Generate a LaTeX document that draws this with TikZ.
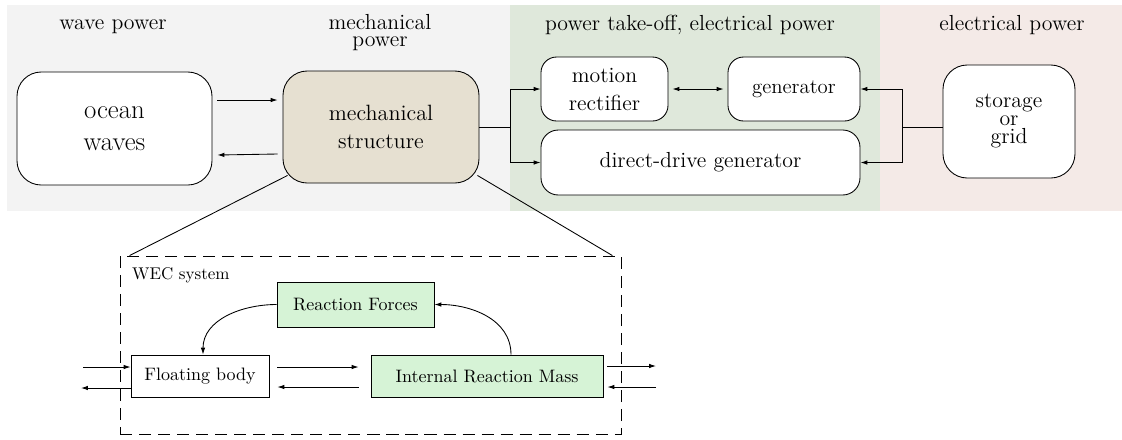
\documentclass[tikz,border=0pt]{standalone}
\usetikzlibrary{arrows.meta,calc}
\definecolor{graybg}{HTML}{F3F3F3}
\definecolor{greenbg}{HTML}{DFE8DB}
\definecolor{pinkbg}{HTML}{F4EAE7}
\definecolor{beige}{HTML}{E6E0D1}
\definecolor{lightgreen}{HTML}{D6F3D6}
\begin{document}
\begin{tikzpicture}[x=0.578pt,y=-0.578pt,
  rbox/.style={draw, align=center, inner sep=0pt, line width=0.5pt},
  sbox/.style={draw, align=center, inner sep=0pt, line width=0.5pt, font=\fontsize{10.4}{12.5}\selectfont},
  hdr/.style={align=center, font=\fontsize{12.6}{9.8}\selectfont},
  arr/.style={-{Latex[length=4pt,width=2.6pt]}, line width=0.5pt},
  dbl/.style={{Latex[length=4pt,width=2.6pt]}-{Latex[length=4pt,width=2.6pt]}, line width=0.5pt},
  ln/.style={line width=0.5pt}]
\useasboundingbox (0,0) rectangle (1122,439);
\fill[graybg] (7,5) rectangle (510,211);
\fill[greenbg] (510,5) rectangle (880,211);
\fill[pinkbg] (880,5) rectangle (1122,211);

\node[hdr] (h1) at (113,27) {wave power};
\node[hdr] (h2) at (380,33) {mechanical\\power};
\node[hdr] (h3) at (690,25) {power take-off, electrical power};
\node[hdr] (h4) at (1012,25) {electrical power};

\node[rbox, fill=white, rounded corners=14pt, minimum width=195*0.578pt, minimum height=113*0.578pt,
  font=\fontsize{15.5}{18.5}\selectfont] (ocean) at (114.5,128.5) {ocean\\waves};
\node[rbox, fill=beige, rounded corners=14pt, minimum width=196*0.578pt, minimum height=112*0.578pt,
  font=\fontsize{12.8}{16.2}\selectfont] (mech) at (381,127) {mechanical\\structure};
\node[rbox, fill=white, rounded corners=9pt, minimum width=127*0.578pt, minimum height=64*0.578pt,
  font=\fontsize{12.6}{16.2}\selectfont] (mr) at (604.5,89) {motion\\rectifier};
\node[rbox, fill=white, rounded corners=9pt, minimum width=132*0.578pt, minimum height=64*0.578pt,
  font=\fontsize{12}{14}\selectfont] (gen) at (794,89) {generator};
\node[rbox, fill=white, rounded corners=10pt, minimum width=319*0.578pt, minimum height=65*0.578pt,
  font=\fontsize{12.6}{16.2}\selectfont] (ddg) at (700.5,162.5) {direct-drive generator};
\node[rbox, fill=white, rounded corners=14pt, minimum width=132*0.578pt, minimum height=113*0.578pt,
  font=\fontsize{12.6}{10.4}\selectfont] (sg) at (1009,121.5) {storage\\or\\grid};

\draw[arr] ($(ocean.east)+(5,-28.5)$) -- ($(mech.west)+(-5,-27)$);
\draw[arr] ($(mech.west)+(-5,27)$) -- ($(ocean.east)+(5,26.5)$);
\draw[dbl] ($(mr.east)+(4,0)$) -- ($(gen.west)+(-4,0)$);
\coordinate (jl) at (510,127);
\coordinate (jr) at (902,127);
\draw[ln] (mech.east |- jl) -- (jl);
\draw[arr] (jl) |- (mr.west);
\draw[arr] (jl) |- (ddg.west);
\draw[ln] (sg.west |- jr) -- (jr);
\draw[arr] (jr) |- (gen.east);
\draw[arr] (jr) |- (ddg.east);

% lower part
\node[draw, dashed, dash pattern=on 7pt off 4pt, line width=0.5pt, minimum width=501*0.578pt, minimum height=178*0.578pt, inner sep=0pt] (wec) at (370.5,345) {};
\node[anchor=west, font=\fontsize{9.8}{12}\selectfont] (wl) at (126,275) {WEC system};
\draw[ln] ($(mech.south west)+(5,-8)$) -- ($(wec.north west)+(10,0)$);
\draw[ln] ($(mech.south east)+(-2,-8)$) -- ($(wec.north east)+(-9,0)$);

\node[sbox, fill=lightgreen, minimum width=157*0.578pt, minimum height=45*0.578pt] (rf) at (355.5,304.5) {Reaction Forces};
\node[sbox, fill=white, minimum width=138*0.578pt, minimum height=42*0.578pt] (fb) at (200,376) {Floating body};
\node[sbox, fill=lightgreen, minimum width=232*0.578pt, minimum height=42*0.578pt] (irm) at (487,376) {Internal Reaction Mass};

\draw[arr] ($(fb.east)+(8,-9)$) -- ($(irm.west)+(-12,-9)$);
\draw[arr] ($(irm.west)+(-12,11)$) -- ($(fb.east)+(8,11)$);
\draw[arr] (rf.west) to[out=180,in=90] ($(fb.north)+(3,0)$);
\draw[arr] ($(irm.north)+(24,0)$) to[out=90,in=0] (rf.east);

\coordinate (l1) at (83,367);
\coordinate (l2) at (81,388);
\coordinate (r1) at (656,366);
\coordinate (r2) at (656,387);
\draw[arr] (l1) -- (l1 -| fb.west);
\draw[arr] (l2 -| fb.west) -- (l2);
\draw[arr] ($(r1 -| irm.east)+(4,0)$) -- (r1);
\draw[arr] (r2) -- ($(r2 -| irm.east)+(4,0)$);
\end{tikzpicture}
\end{document}
